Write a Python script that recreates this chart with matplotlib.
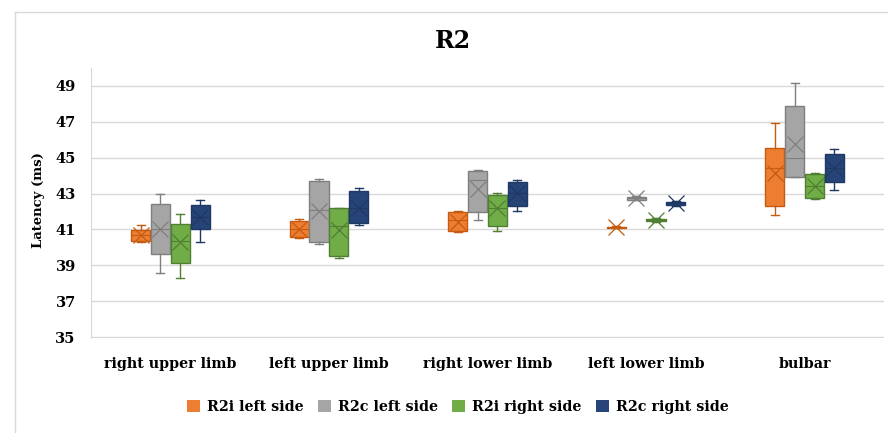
import matplotlib

matplotlib.use("Agg")

import matplotlib.pyplot as plt
from matplotlib.lines import Line2D
from matplotlib.patches import Patch

categories = ["right upper limb", "left upper limb", "right lower limb", "left lower limb", "bulbar"]
series = ["R2i left side", "R2c left side", "R2i right side", "R2c right side"]
fill_colors = ["#ED7D31", "#A5A5A5", "#70AD47", "#264478"]
edge_colors = ["#C55A11", "#7F7F7F", "#507E32", "#1F3864"]

# box statistics per series, one value per category (ms)
r2i_left_whislo = [40.28, 40.52, 40.87, 41.08, 41.78]
r2i_left_q1 = [40.37, 40.56, 40.93, 41.10, 42.28]
r2i_left_med = [40.70, 41.02, 41.52, 41.13, 44.44]
r2i_left_mean = [40.70, 41.02, 41.44, 41.13, 44.17]
r2i_left_q3 = [40.98, 41.46, 41.98, 41.16, 45.54]
r2i_left_whishi = [41.26, 41.57, 42.04, 41.18, 46.91]

r2c_left_whislo = [38.56, 40.17, 41.52, 42.62, 43.91]
r2c_left_q1 = [39.63, 40.28, 41.98, 42.66, 43.91]
r2c_left_med = [41.02, 42.10, 43.76, 42.74, 45.00]
r2c_left_mean = [41.02, 42.04, 43.24, 42.74, 45.74]
r2c_left_q3 = [42.41, 43.69, 44.26, 42.82, 47.87]
r2c_left_whishi = [43.00, 43.80, 44.31, 42.86, 49.17]

r2i_right_whislo = [38.28, 39.39, 40.93, 41.40, 42.69]
r2i_right_q1 = [39.11, 39.50, 41.17, 41.45, 42.78]
r2i_right_med = [40.37, 41.17, 42.22, 41.52, 43.43]
r2i_right_mean = [40.28, 40.96, 42.22, 41.52, 43.43]
r2i_right_q3 = [41.31, 42.19, 42.93, 41.60, 44.11]
r2i_right_whishi = [41.85, 42.22, 43.06, 41.65, 44.17]

r2c_right_whislo = [40.28, 41.24, 42.04, 42.30, 43.20]
r2c_right_q1 = [41.04, 41.35, 42.28, 42.36, 43.65]
r2c_right_med = [41.67, 42.22, 43.02, 42.45, 44.44]
r2c_right_mean = [41.67, 42.22, 43.02, 42.45, 44.44]
r2c_right_q3 = [42.37, 43.17, 43.67, 42.54, 45.22]
r2c_right_whishi = [42.63, 43.33, 43.76, 42.60, 45.46]

y_ticks = [35, 37, 39, 41, 43, 45, 47, 49]

stats_by_series = [
    (r2i_left_whislo, r2i_left_q1, r2i_left_med, r2i_left_mean, r2i_left_q3, r2i_left_whishi),
    (r2c_left_whislo, r2c_left_q1, r2c_left_med, r2c_left_mean, r2c_left_q3, r2c_left_whishi),
    (r2i_right_whislo, r2i_right_q1, r2i_right_med, r2i_right_mean, r2i_right_q3, r2i_right_whishi),
    (r2c_right_whislo, r2c_right_q1, r2c_right_med, r2c_right_mean, r2c_right_q3, r2c_right_whishi),
]

font = "DejaVu Serif"
plt.rcParams["font.family"] = font
plt.rcParams["font.weight"] = "bold"

fig = plt.figure(figsize=(8.88, 4.33), dpi=100)
ax = fig.add_axes([91 / 888, 1 - 338 / 433, (884 - 91) / 888, (338 - 68) / 433])

box_width = 0.12
offsets = [-0.1875, -0.0625, 0.0625, 0.1875]

for idx, (whislo, q1, med, mean, q3, whishi) in enumerate(stats_by_series):
    stats = [
        {"whislo": whislo[i], "q1": q1[i], "med": med[i], "mean": mean[i],
         "q3": q3[i], "whishi": whishi[i], "fliers": []}
        for i in range(len(categories))
    ]
    positions = [i + offsets[idx] for i in range(len(categories))]
    ax.bxp(
        stats,
        positions=positions,
        widths=box_width,
        capwidths=0.05,
        showmeans=True,
        patch_artist=True,
        boxprops=dict(facecolor=fill_colors[idx], edgecolor=edge_colors[idx], linewidth=1),
        whiskerprops=dict(color=edge_colors[idx], linewidth=1),
        capprops=dict(color=edge_colors[idx], linewidth=1),
        medianprops=dict(color=edge_colors[idx], linewidth=0.8),
        meanprops=dict(marker="x", markeredgecolor=edge_colors[idx], markersize=12, markeredgewidth=0.9),
        zorder=3,
    )

ax.set_xlim(-0.5, len(categories) - 0.5)
ax.set_ylim(34.95, 50)
ax.set_yticks(y_ticks)
ax.set_xticks(range(len(categories)))
ax.set_xticklabels(categories, fontsize=10.3, fontweight="bold")
ax.tick_params(axis="y", labelsize=10.5, length=0, pad=11)
ax.tick_params(axis="x", length=0, pad=14)
ax.grid(axis="y", color="#D9D9D9", linewidth=1)
ax.set_axisbelow(True)
for side in ["top", "right", "bottom"]:
    ax.spines[side].set_visible(False)
ax.spines["left"].set_color("#D9D9D9")

fig.text(38 / 888, 1 - 200 / 433, "Latency (ms)", rotation=90, ha="center", va="center",
         fontsize=9.5, fontweight="bold")
fig.text(453 / 888, 1 - 41 / 433, "R2", ha="center", va="center", fontsize=17, fontweight="bold")

handles = [Patch(facecolor=c, edgecolor="none") for c in fill_colors]
fig.legend(handles, series, loc="center", bbox_to_anchor=(458 / 888, 1 - 407 / 433), ncol=4,
           frameon=False, fontsize=10.3, handlelength=0.9, handleheight=0.9, columnspacing=1.0,
           handletextpad=0.5)

# chart area border (left and top edges visible in the crop)
fig.add_artist(Line2D([15 / 888, 15 / 888], [0, 1 - 12 / 433], color="#D9D9D9", linewidth=1))
fig.add_artist(Line2D([15 / 888, 1], [1 - 12 / 433, 1 - 12 / 433], color="#D9D9D9", linewidth=1))

fig.savefig("out.png", dpi=100)
